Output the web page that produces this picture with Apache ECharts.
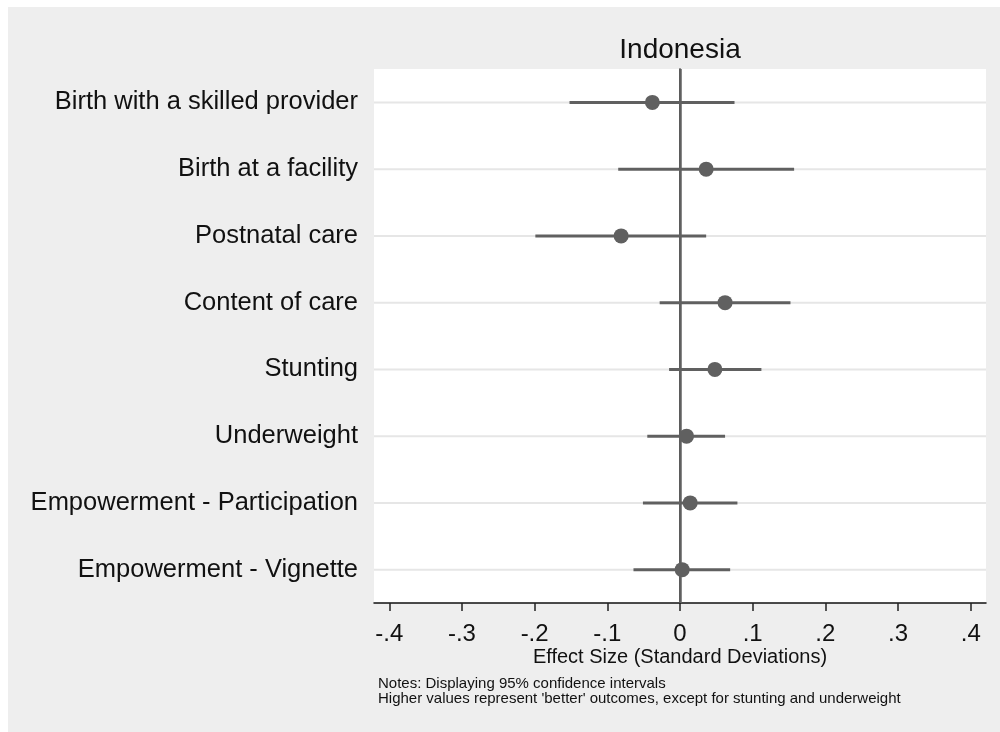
<!DOCTYPE html>
<html>
<head>
<meta charset="utf-8">
<script src="https://cdn.jsdelivr.net/npm/echarts@6/dist/echarts.min.js"></script>
<style>
  html, body { margin: 0; padding: 0; background: #ffffff; }
  #chart { width: 1000px; height: 732px; }
</style>
</head>
<body>
<div id="chart"></div>
<script>
// Outcomes, top to bottom
const categories = [
  'Birth with a skilled provider',
  'Birth at a facility',
  'Postnatal care',
  'Content of care',
  'Stunting',
  'Underweight',
  'Empowerment - Participation',
  'Empowerment - Vignette'
];
// Point estimates and 95% confidence bounds (standard deviations)
const estimates = [-0.038, 0.036, -0.081, 0.062, 0.048, 0.009, 0.014, 0.003];
const ciLow     = [-0.152, -0.085, -0.199, -0.028, -0.015, -0.045, -0.051, -0.064];
const ciHigh    = [0.075, 0.157, 0.036, 0.152, 0.112, 0.062, 0.079, 0.069];

// x-axis ticks and their labels
const xTicks = [-0.4, -0.3, -0.2, -0.1, 0, 0.1, 0.2, 0.3, 0.4];
const xTickLabels = ['-.4', '-.3', '-.2', '-.1', '0', '.1', '.2', '.3', '.4'];

const titleText = 'Indonesia';
const xAxisTitle = 'Effect Size (Standard Deviations)';
const noteLines = [
  'Notes: Displaying 95% confidence intervals',
  "Higher values represent 'better' outcomes, except for stunting and underweight"
];

const FONT = "'Liberation Sans', Arial, sans-serif";
const MARK = '#606060';

const rows = categories.map((c, i) => [i, ciLow[i], ciHigh[i], estimates[i]]);

const chart = echarts.init(document.getElementById('chart'), null, { renderer: 'canvas' });

chart.setOption({
  animation: false,
  backgroundColor: '#ffffff',
  textStyle: { fontFamily: FONT },
  graphic: [
    { type: 'rect', z: -10, shape: { x: 8, y: 7, width: 992, height: 725 }, style: { fill: '#eeeeee' } },
    { type: 'text', z: 10, x: 680, y: 50,
      style: { text: titleText, font: '28px ' + FONT, fill: '#111', align: 'center', verticalAlign: 'middle' } },
    { type: 'text', z: 10, x: 680, y: 657,
      style: { text: xAxisTitle, font: '20px ' + FONT, fill: '#111', align: 'center', verticalAlign: 'middle' } },
    { type: 'text', z: 10, x: 378, y: 684,
      style: { text: noteLines[0], font: '15px ' + FONT, fill: '#111', align: 'left', verticalAlign: 'middle' } },
    { type: 'text', z: 10, x: 378, y: 699,
      style: { text: noteLines[1], font: '15px ' + FONT, fill: '#111', align: 'left', verticalAlign: 'middle' } }
  ],
  grid: {
    left: 374, top: 69, right: 14, bottom: 129,
    show: true, backgroundColor: '#ffffff', borderWidth: 0
  },
  xAxis: {
    type: 'value',
    min: -0.421, max: 0.421,
    axisLine: { show: true, onZero: false, lineStyle: { color: '#111', width: 1.5 } },
    axisTick: { show: true, length: 8, customValues: xTicks, lineStyle: { color: '#222', width: 1.5 } },
    axisLabel: {
      customValues: xTicks,
      margin: 19,
      fontSize: 24, color: '#111', fontFamily: FONT,
      formatter: v => {
        const i = xTicks.findIndex(t => Math.abs(t - v) < 1e-9);
        return i >= 0 ? xTickLabels[i] : '';
      }
    },
    splitLine: { show: false }
  },
  yAxis: {
    type: 'category',
    inverse: true,
    data: categories,
    axisLine: { show: true, lineStyle: { color: '#111', width: 1.5 } },
    axisTick: { show: true, alignWithLabel: true, length: 7, lineStyle: { color: '#222', width: 1.5 } },
    axisLabel: { margin: 16, fontSize: 25.5, color: '#111', fontFamily: FONT, padding: [8, 0, 0, 0] },
    splitLine: { show: false }
  },
  series: [
    {
      // light horizontal guide at each outcome
      type: 'custom',
      z: 1,
      silent: true,
      data: rows,
      encode: { x: [1, 2, 3], y: 0 },
      renderItem: (params, api) => {
        const y = api.coord([0, api.value(0)])[1];
        const cs = params.coordSys;
        return {
          type: 'line',
          shape: { x1: cs.x, y1: y, x2: cs.x + cs.width, y2: y },
          style: { stroke: '#e6e6e6', lineWidth: 2 }
        };
      }
    },
    {
      // vertical reference line at zero
      type: 'line',
      z: 2,
      data: [],
      markLine: {
        silent: true,
        symbol: 'none',
        label: { show: false },
        lineStyle: { color: MARK, width: 2.5, type: 'solid' },
        data: [{ xAxis: 0 }]
      }
    },
    {
      // confidence interval and point estimate
      type: 'custom',
      z: 3,
      data: rows,
      encode: { x: [1, 2, 3], y: 0 },
      renderItem: (params, api) => {
        const idx = api.value(0);
        const lo = api.coord([api.value(1), idx]);
        const hi = api.coord([api.value(2), idx]);
        const pt = api.coord([api.value(3), idx]);
        return {
          type: 'group',
          children: [
            { type: 'line', shape: { x1: lo[0], y1: lo[1], x2: hi[0], y2: hi[1] },
              style: { stroke: MARK, lineWidth: 3 } },
            { type: 'circle', shape: { cx: pt[0], cy: pt[1], r: 7.5 },
              style: { fill: MARK } }
          ]
        };
      }
    }
  ]
});
</script>
</body>
</html>
